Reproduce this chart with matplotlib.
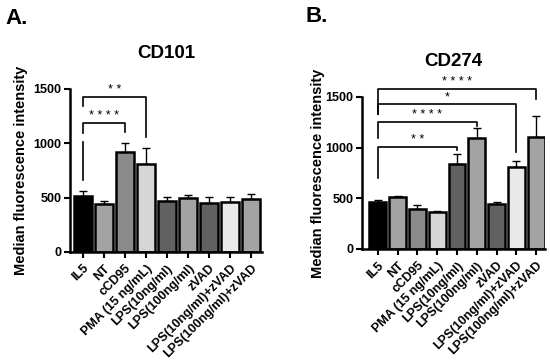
import matplotlib.pyplot as plt

plt.rcParams['font.family'] = ['Liberation Sans', 'DejaVu Sans']
plt.rcParams['font.weight'] = 'bold'

groups = ['IL5', 'NT', 'cCD95', 'PMA (15 ng/mL)', 'LPS(10ng/ml)', 'LPS(100ng/ml)',
          'zVAD', 'LPS(10ng/ml)+zVAD', 'LPS(100ng/ml)+zVAD']
colors = ['#000000', '#a3a3a3', '#8a8a8a', '#d6d6d6', '#616161', '#a3a3a3',
          '#616161', '#e9e9e9', '#a3a3a3']

# CD101 panel
cd101_mean = [510, 441, 920, 810, 469, 497, 451, 460, 488]
cd101_err = [52, 28, 83, 147, 37, 27, 55, 46, 46]
# CD274 panel
cd274_mean = [464, 513, 395, 365, 839, 1096, 440, 809, 1106]
cd274_err = [20, 12, 39, 10, 99, 98, 25, 60, 207]

# brackets: (left idx, right idx, height, left leg bottom, right leg bottom, label)
cd101_sig = [(0, 3, 1426, 1343, 1058, '**'),
             (0, 2, 1187, 1095, 1104, '****')]
cd274_sig = [(0, 8, 1579, 1330, 1480, '****'),
             (0, 7, 1431, 1330, 957, '*'),
             (0, 5, 1254, 1096, 1215, '****'),
             (0, 4, 1007, 700, 977, '**')]


def draw_panel(ax, means, errs, sigs, title, xlim, label_x):
    x = list(range(len(groups)))
    ax.bar(x, means, width=0.85, color=colors, edgecolor='black', linewidth=1.8, zorder=2)
    ax.errorbar(x, means, yerr=[[0] * len(errs), errs], fmt='none', ecolor='black',
                elinewidth=1, capsize=3, capthick=1, zorder=1)
    ax.set_ylim(0, 1500)
    ax.set_xlim(*xlim)
    ax.set_yticks([0, 500, 1000, 1500])
    ax.set_xticks(x)
    ax.set_xticklabels(groups, rotation=45, ha='right', rotation_mode='anchor',
                       fontsize=9, fontweight='bold')
    ax.tick_params(axis='y', labelsize=9, width=1.5, length=4, pad=2)
    ax.tick_params(axis='x', width=1.5, length=4)
    for lab in ax.get_yticklabels():
        lab.set_fontweight('bold')
    for s in ['top', 'right']:
        ax.spines[s].set_visible(False)
    for s in ['left', 'bottom']:
        ax.spines[s].set_linewidth(1.8)
    ax.set_ylabel('Median fluorescence intensity', fontsize=10.5, fontweight='bold')
    ax.yaxis.set_label_coords(label_x, 0.5)
    ax.set_title(title, fontsize=13.5, fontweight='bold', pad=22)
    for i, j, h, lb, rb, lab in sigs:
        ax.plot([i, i, j, j], [lb, h, h, rb], color='black', lw=1.2, clip_on=False)
        ax.text((i + j) / 2, h + 5, ' '.join(lab), ha='center', va='bottom', fontsize=9,
                fontweight='normal')


fig = plt.figure(figsize=(5.5, 3.64), dpi=100)
ax1 = fig.add_axes([0.127, 0.308, 0.349, 0.448])
ax2 = fig.add_axes([0.658, 0.316, 0.333, 0.418])

draw_panel(ax1, cd101_mean, cd101_err, cd101_sig, 'CD101', (-0.62, 8.52), -0.22)
# extra leg segment under the brackets at IL5
ax1.plot([0, 0], [662, 1012], color='black', lw=1.2)
draw_panel(ax2, cd274_mean, cd274_err, cd274_sig, 'CD274', (-0.8, 8.45), -0.2)

fig.text(0.01, 0.95, 'A.', fontsize=16, fontweight='bold', va='center')
fig.text(0.555, 0.955, 'B.', fontsize=16, fontweight='bold', va='center')

fig.savefig('out.png', dpi=100)
